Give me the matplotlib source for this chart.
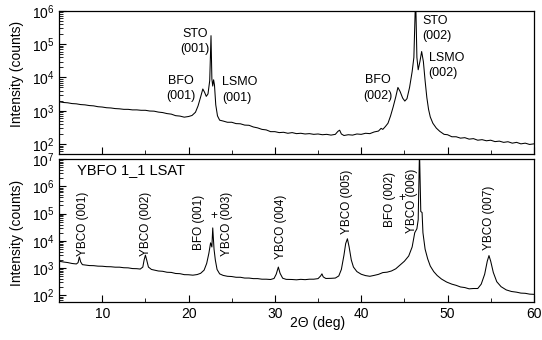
import numpy as np
import matplotlib
matplotlib.use("Agg")
import matplotlib.pyplot as plt
from matplotlib.ticker import LogLocator, NullFormatter, MultipleLocator

plt.rcParams['font.family'] = ['Liberation Sans', 'DejaVu Sans']
plt.rcParams['mathtext.fontset'] = 'custom'
plt.rcParams['mathtext.rm'] = 'Liberation Sans'

# top scan: 2theta (deg), counts
tt_top = [5.0, 5.5, 6.0, 6.5, 7.0, 7.5, 8.0, 8.5, 9.0, 9.5, 10.0, 10.5, 11.0, 11.5,
          12.0, 12.5, 13.0, 13.5, 14.0, 14.5, 15.0, 15.5, 16.0, 16.5, 17.0, 17.5,
          18.0, 18.5, 19.0, 19.5, 20.0, 20.4, 20.8, 21.1, 21.4, 21.65, 21.85, 22.05,
          22.25, 22.45, 22.6, 22.7, 22.8, 22.9, 23.0, 23.15, 23.35, 23.6, 24.0, 24.5,
          25.0, 25.5, 26.0, 26.5, 27.0, 27.5, 28.0, 28.5, 29.0, 29.5, 30.0, 30.5,
          31.0, 31.5, 32.0, 32.5, 33.0, 33.5, 34.0, 34.5, 35.0, 35.5, 36.0, 36.5,
          37.0, 37.3, 37.5, 37.7, 38.0, 38.5, 39.0, 39.5, 40.0, 40.5, 41.0, 41.5,
          42.0, 42.3, 42.5, 42.8, 43.1, 43.4, 43.7, 44.0, 44.25, 44.5, 44.8, 45.05,
          45.3, 45.6, 45.9, 46.1, 46.3, 46.45, 46.6, 46.8, 47.0, 47.2, 47.4, 47.6,
          47.8, 48.0, 48.3, 48.7, 49.1, 49.6, 50.0, 50.5, 51.0, 51.5, 52.0, 52.5,
          53.0, 53.5, 54.0, 54.5, 55.0, 55.5, 56.0, 56.5, 57.0, 57.5, 58.0, 58.5,
          59.0, 59.5, 60.0]
cnt_top = [1860, 1770, 1730, 1640, 1610, 1530, 1500, 1430, 1400, 1320, 1290, 1230,
           1210, 1160, 1140, 1100, 1100, 1060, 1060, 1030, 1030, 980, 970, 910, 880,
           820, 790, 710, 690, 640, 670, 720, 900, 1400, 2600, 4500, 3600, 2700,
           3200, 8000, 180000, 9000, 5500, 8500, 6000, 1500, 700, 520, 490, 450,
           450, 410, 405, 370, 365, 325, 305, 275, 265, 235, 235, 220, 225, 210,
           220, 205, 210, 200, 205, 195, 200, 190, 195, 185, 195, 240, 260, 200,
           180, 190, 185, 200, 195, 210, 205, 230, 245, 295, 275, 335, 420, 700,
           1300, 2600, 5000, 3800, 2400, 1950, 2300, 5000, 15000, 40000, 3000000,
           40000, 17000, 30000, 60000, 30000, 8000, 2500, 1100, 650, 420, 300, 240,
           195, 190, 165, 165, 150, 155, 140, 145, 130, 135, 125, 130, 118, 122,
           112, 117, 106, 112, 101, 106, 97, 101]

# bottom scan (YBFO 1_1 LSAT)
tt_bot = [5.0, 5.5, 6.0, 6.5, 7.0, 7.2, 7.35, 7.5, 7.7, 8.0, 8.5, 9.0, 9.5, 10.0,
          10.5, 11.0, 11.5, 12.0, 12.5, 13.0, 13.5, 14.0, 14.4, 14.7, 14.85, 15.0,
          15.15, 15.35, 15.7, 16.0, 16.5, 17.0, 17.5, 18.0, 18.5, 19.0, 19.5, 20.0,
          20.5, 21.0, 21.4, 21.8, 22.1, 22.35, 22.55, 22.7, 22.8, 22.95, 23.1, 23.3,
          23.6, 24.0, 24.5, 25.0, 25.5, 26.0, 26.5, 27.0, 27.5, 28.0, 28.5, 29.0,
          29.5, 29.9, 30.15, 30.4, 30.6, 30.9, 31.3, 32.0, 32.5, 33.0, 33.5, 34.0,
          34.5, 35.0, 35.3, 35.45, 35.6, 35.9, 36.5, 37.0, 37.4, 37.7, 38.0, 38.2,
          38.4, 38.6, 38.85, 39.1, 39.5, 40.0, 40.5, 41.0, 41.5, 42.0, 42.5, 43.0,
          43.5, 44.0, 44.5, 45.0, 45.5, 45.9, 46.2, 46.45, 46.6, 46.75, 46.9, 47.05,
          47.15, 47.4, 47.7, 48.0, 48.4, 48.8, 49.3, 49.9, 50.5, 51.0, 51.5, 52.0,
          52.5, 53.0, 53.5, 53.9, 54.3, 54.6, 54.8, 55.0, 55.3, 55.7, 56.2, 56.8,
          57.4, 58.0, 58.5, 59.0, 59.5, 60.0]
cnt_bot = [1800, 1690, 1610, 1490, 1430, 1600, 2600, 1700, 1350, 1310, 1250, 1240,
           1190, 1180, 1140, 1130, 1090, 1090, 1040, 1030, 970, 960, 930, 1100, 2000,
           3000, 2000, 1100, 900, 860, 790, 770, 710, 700, 640, 630, 580, 575, 555,
           585, 650, 850, 1500, 3500, 8500, 6000, 30000, 5000, 2000, 900, 620, 545,
           505, 495, 465, 465, 435, 435, 415, 415, 395, 395, 385, 420, 600, 1100, 650,
           430, 390, 385, 375, 390, 380, 395, 395, 415, 520, 620, 480, 420, 425, 435,
           520, 900, 3000, 8000, 12000, 6000, 2000, 1100, 750, 600, 535, 505, 545, 595,
           690, 715, 790, 950, 1300, 1800, 2800, 6000, 20000, 28000, 60000, 2.0e7,
           120000, 110000, 20000, 5000, 2200, 1200, 750, 540, 400, 310, 260, 235, 205,
           195, 175, 180, 180, 260, 600, 1800, 2900, 1800, 700, 320, 210, 160, 140,
           132, 122, 120, 112, 110]

top_labels = [("STO\n(001)", 20.74, 0.787, "center"),
              ("BFO\n(001)", 19.1, 0.458, "center"),
              ("LSMO\n(001)", 23.87, 0.448, "left"),
              ("BFO\n(002)", 41.9, 0.46, "center"),
              ("STO\n(002)", 47.1, 0.878, "left"),
              ("LSMO\n(002)", 47.8, 0.619, "left")]
bot_labels = [("YBCO (001)", 7.78, 0.55), ("YBCO (002)", 15.07, 0.55),
              ("BFO (001)", 21.2, 0.555), ("YBCO (003)", 24.44, 0.55),
              ("YBCO (004)", 30.7, 0.525), ("YBCO (005)", 38.33, 0.70),
              ("BFO (002)", 43.3, 0.72), ("YBCO (006)", 45.86, 0.71),
              ("YBCO (007)", 54.77, 0.59)]
plus_marks = [(22.94, 0.60), (44.7, 0.725)]

fig = plt.figure(figsize=(5.42, 3.4), dpi=100)
ax1 = fig.add_axes([0.109, 0.547, 0.876, 0.421])
ax2 = fig.add_axes([0.109, 0.112, 0.876, 0.420])

ax1.plot(tt_top, cnt_top, color='black', lw=0.75)
ax2.plot(tt_bot, cnt_bot, color='black', lw=0.75)

ax1.set_ylim(50, 1e6)
ax2.set_ylim(58, 1e7)
for ax in (ax1, ax2):
    ax.set_yscale('log')
    ax.set_xlim(5, 60)
    ax.xaxis.set_major_locator(MultipleLocator(10))
    ax.xaxis.set_minor_locator(MultipleLocator(5))
    ax.yaxis.set_major_locator(LogLocator(base=10, numticks=20))
    ax.yaxis.set_minor_locator(LogLocator(base=10, subs=np.arange(2, 10), numticks=20))
    ax.yaxis.set_minor_formatter(NullFormatter())
    ax.tick_params(which='both', direction='in', top=False, right=False, labelsize=10)
    ax.tick_params(which='major', length=5, width=0.8)
    ax.tick_params(which='minor', length=3, width=0.6)
    for s in ax.spines.values():
        s.set_linewidth(0.9)
ax1.tick_params(axis='x', labelbottom=False)

tr1 = ax1.get_xaxis_transform()
for txt, x, y, ha in top_labels:
    ax1.text(x, y, txt, transform=tr1, ha=ha, va='center', fontsize=9, linespacing=1.4)

tr2 = ax2.get_xaxis_transform()
for txt, x, y in bot_labels:
    ax2.text(x, y, txt, transform=tr2, rotation=90, ha='center', va='center', fontsize=8.5)
for x, y in plus_marks:
    ax2.text(x, y, "+", transform=tr2, ha='center', va='center', fontsize=8.5)
ax2.text(7.08, 0.926, "YBFO 1_1 LSAT", transform=tr2, ha='left', va='center', fontsize=10.5)

fig.text(0.031, 0.782, "Intensity (counts)", rotation=90, ha='center', va='center', fontsize=10)
fig.text(0.031, 0.315, "Intensity (counts)", rotation=90, ha='center', va='center', fontsize=10)
fig.text(0.585, 0.05, "2\u0398 (deg)", ha='center', va='center', fontsize=10)

fig.savefig("out.png", dpi=100)
